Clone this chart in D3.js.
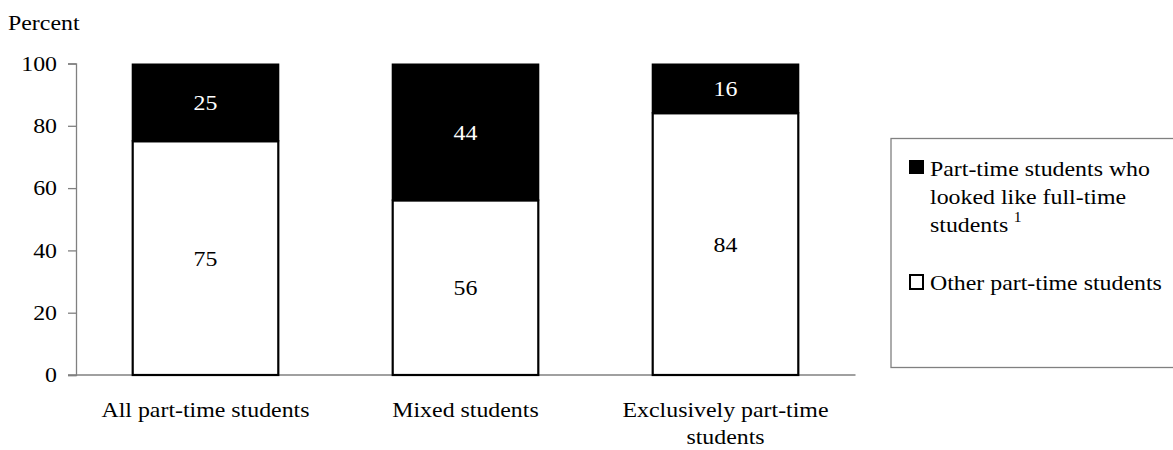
<!DOCTYPE html>
<html>
<head>
<meta charset="utf-8">
<script src="https://cdn.jsdelivr.net/npm/d3@7"></script>
<style>
  html, body { margin: 0; padding: 0; background: #fff; }
  svg { display: block; font-family: "Liberation Serif", "Times New Roman", serif; }
</style>
</head>
<body>
<svg id="chart" width="1173" height="450"></svg>
<script>
// Category names (each entry is a list of label lines)
const categories = ["All part-time students", "Mixed students", "Exclusively part-time students"];
const categoryLines = [["All part-time students"], ["Mixed students"], ["Exclusively part-time", "students"]];
// Percent of part-time students in each group
const otherValues = [75, 56, 84];
const lookedFullTimeValues = [25, 44, 16];
const yTicks = [0, 20, 40, 60, 80, 100];
const legendLabels = [
  ["Part-time students who", "looked like full-time", "students"],
  ["Other part-time students"]
];

const svg = d3.select("#chart");
const fontSize = 21.5;
const SX = 1.11; // horizontal widening of the typeface

// Places a text label at (x, y) with the widened typeface
function addText(parent, x, y, str, opts = {}) {
  const g = parent.append("g")
    .attr("transform", `translate(${x},${y}) scale(${SX},1)`);
  const t = g.append("text")
    .attr("font-size", opts.size || fontSize)
    .attr("text-anchor", opts.anchor || "start")
    .attr("fill", opts.fill || "#000")
    .attr("dy", opts.dy || null)
    .text(str);
  return t;
}

const x = d3.scaleBand()
  .domain(categories)
  .range([75.5, 855.5])
  .paddingInner(0.44)
  .paddingOuter(0.22);

const y = d3.scaleLinear().domain([0, 100]).range([375, 63.5]);

// Y axis title
addText(svg, 8, 30, "Percent");

// Y axis
const yAxis = svg.append("g")
  .attr("transform", "translate(76,0)")
  .call(d3.axisLeft(y).tickValues(yTicks).tickSize(8).tickPadding(10));
yAxis.select(".domain").attr("stroke", "#808080").attr("stroke-width", 1.3);
yAxis.selectAll(".tick line").attr("stroke", "#808080").attr("stroke-width", 1.3);
yAxis.selectAll(".tick text")
  .attr("font-size", fontSize)
  .attr("font-family", "Liberation Serif, Times New Roman, serif")
  .attr("fill", "#000")
  .attr("x", -19 / SX)
  .attr("transform", `scale(${SX},1)`);

// X baseline
svg.append("line")
  .attr("x1", 68).attr("x2", x.range()[1])
  .attr("y1", y(0)).attr("y2", y(0))
  .attr("stroke", "#808080").attr("stroke-width", 1.3);

// Stacked bars
const bars = svg.append("g");
categories.forEach((c, i) => {
  const x0 = x(c), w = x.bandwidth();
  const other = otherValues[i], top = lookedFullTimeValues[i];
  // lower (white) segment
  bars.append("rect")
    .attr("x", x0).attr("y", y(other))
    .attr("width", w).attr("height", y(0) - y(other))
    .attr("fill", "#fff").attr("stroke", "#000").attr("stroke-width", 2.2);
  // upper (black) segment
  bars.append("rect")
    .attr("x", x0 - 1).attr("y", y(other + top))
    .attr("width", w + 2).attr("height", y(other) - y(other + top))
    .attr("fill", "#000");
  // value labels
  addText(bars, x0 + w / 2, y(other / 2), other, { anchor: "middle", dy: "0.35em" });
  addText(bars, x0 + w / 2, y(other + top / 2), top, { anchor: "middle", dy: "0.35em", fill: "#fff" });
  // category labels
  categoryLines[i].forEach((line, j) => {
    addText(svg, x0 + w / 2, 417 + j * 26.5, line, { anchor: "middle" });
  });
});

// Legend
const legend = svg.append("g");
legend.append("rect")
  .attr("x", 891).attr("y", 138.5)
  .attr("width", 300).attr("height", 229)
  .attr("fill", "none").attr("stroke", "#808080").attr("stroke-width", 1.3);

legend.append("rect")
  .attr("x", 909).attr("y", 160).attr("width", 15).attr("height", 14)
  .attr("fill", "#000");
legendLabels[0].forEach((line, j) => {
  const t = addText(legend, 930, 176 + j * 27.8, line);
  if (j === legendLabels[0].length - 1) {
    // footnote marker
    t.append("tspan").attr("dx", 5).attr("dy", -10).attr("font-size", 14).text("1");
  }
});

legend.append("rect")
  .attr("x", 910).attr("y", 275).attr("width", 13).attr("height", 14)
  .attr("fill", "#fff").attr("stroke", "#000").attr("stroke-width", 2);
addText(legend, 930, 290, legendLabels[1][0]);
</script>
</body>
</html>
